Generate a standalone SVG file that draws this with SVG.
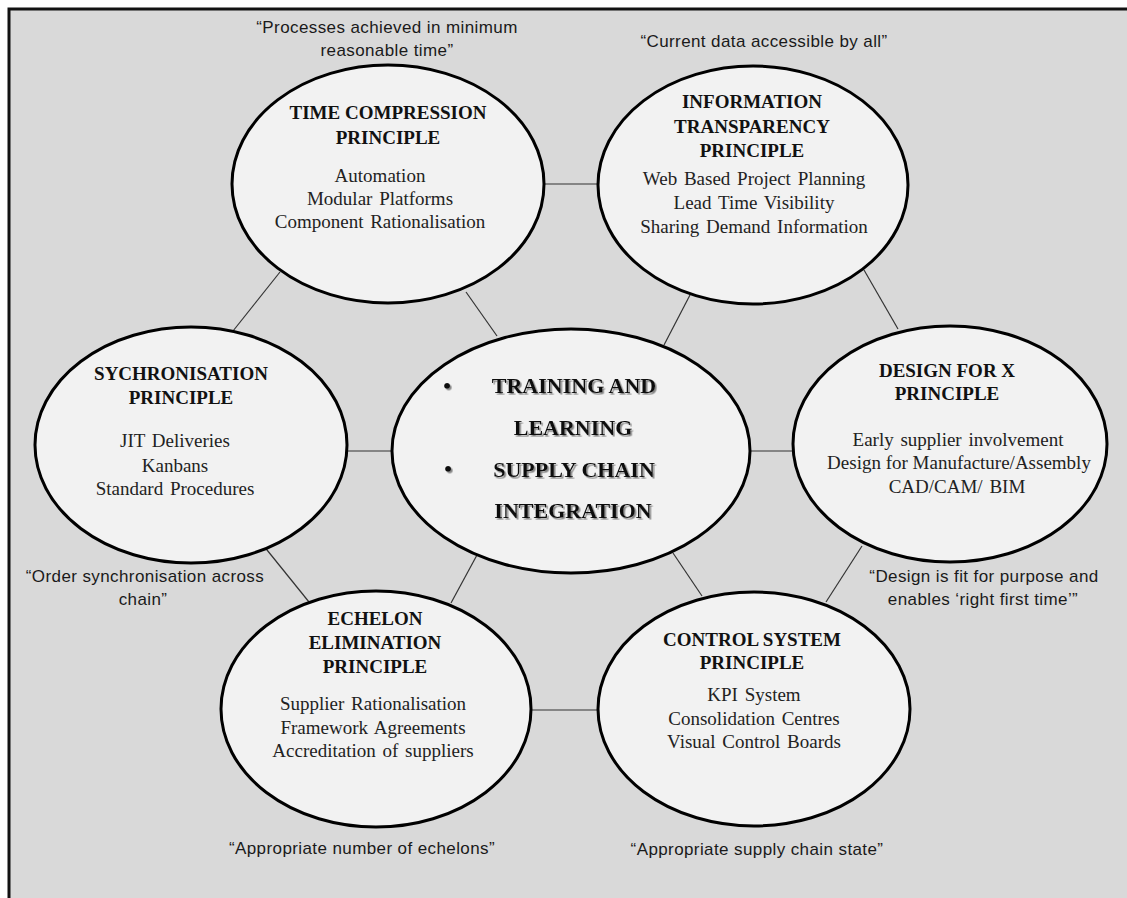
<svg xmlns="http://www.w3.org/2000/svg" width="1127" height="898" viewBox="0 0 1127 898">
<defs>
<style>
.node{fill:#f2f2f2;stroke:#000;stroke-width:3}
.conn line{stroke:#333;stroke-width:1.2}
.title{font-family:"Liberation Serif","Times New Roman",serif;font-weight:bold;font-size:19px;fill:#111;text-anchor:middle}
.item{font-family:"Liberation Serif","Times New Roman",serif;font-size:19px;fill:#222;text-anchor:middle;word-spacing:2px}
.quote{font-family:"Liberation Sans",Arial,sans-serif;font-size:17px;letter-spacing:0.4px;fill:#1a1a1a;text-anchor:middle}
.center{font-family:"Liberation Serif","Times New Roman",serif;font-weight:bold;font-size:22px;fill:#111;text-anchor:middle}
</style>
<filter id="shadow" x="-10%" y="-20%" width="130%" height="160%">
<feDropShadow dx="1.6" dy="1.6" stdDeviation="0.6" flood-color="#7a7a7a" flood-opacity="0.9"/>
</filter>
</defs>
<rect x="0" y="0" width="1127" height="898" fill="#ffffff"/>
<rect x="9" y="9" width="1130" height="900" fill="#d9d9d9" stroke="#111" stroke-width="3"/>

<g id="connectors" class="conn">
<line x1="545" y1="184" x2="598" y2="184"/>
<line x1="280" y1="272" x2="233" y2="331"/>
<line x1="466" y1="292" x2="497" y2="336"/>
<line x1="690" y1="295" x2="664" y2="345"/>
<line x1="864" y1="270" x2="898" y2="329"/>
<line x1="347" y1="451" x2="392" y2="451"/>
<line x1="750" y1="451" x2="793" y2="451"/>
<line x1="263" y1="545" x2="309" y2="602"/>
<line x1="477" y1="555" x2="451" y2="603"/>
<line x1="673" y1="553" x2="702" y2="596"/>
<line x1="862" y1="546" x2="826" y2="602"/>
<line x1="532" y1="710" x2="598" y2="710"/>
</g>

<g id="time-compression">
<ellipse class="node" cx="388" cy="184" rx="156" ry="119"/>
<text class="title" x="388" y="119">TIME COMPRESSION</text>
<text class="title" x="388" y="144">PRINCIPLE</text>
<text class="item" x="380" y="182">Automation</text>
<text class="item" x="380" y="205">Modular Platforms</text>
<text class="item" x="380" y="228">Component Rationalisation</text>
</g>

<g id="information-transparency">
<ellipse class="node" cx="753" cy="185" rx="155" ry="119"/>
<text class="title" x="752" y="108">INFORMATION</text>
<text class="title" x="752" y="133">TRANSPARENCY</text>
<text class="title" x="752" y="157">PRINCIPLE</text>
<text class="item" x="754" y="185">Web Based Project Planning</text>
<text class="item" x="754" y="209">Lead Time Visibility</text>
<text class="item" x="754" y="233">Sharing Demand Information</text>
</g>

<g id="synchronisation">
<ellipse class="node" cx="191" cy="445" rx="156" ry="118"/>
<text class="title" x="181" y="380">SYCHRONISATION</text>
<text class="title" x="181" y="404">PRINCIPLE</text>
<text class="item" x="175" y="447">JIT Deliveries</text>
<text class="item" x="175" y="472">Kanbans</text>
<text class="item" x="175" y="495">Standard Procedures</text>
</g>

<g id="central">
<ellipse class="node" cx="571" cy="451" rx="179" ry="122"/>
<g filter="url(#shadow)">
<text class="center" x="447" y="393" text-anchor="start">•</text>
<text class="center" x="574" y="393">TRAINING AND</text>
<text class="center" x="573" y="435">LEARNING</text>
<text class="center" x="448" y="476" text-anchor="start">•</text>
<text class="center" x="574" y="477">SUPPLY CHAIN</text>
<text class="center" x="573" y="518">INTEGRATION</text>
</g>
</g>

<g id="design-for-x">
<ellipse class="node" cx="950" cy="444" rx="157" ry="118"/>
<text class="title" x="947" y="377">DESIGN FOR X</text>
<text class="title" x="947" y="400">PRINCIPLE</text>
<text class="item" x="958" y="446">Early supplier involvement</text>
<text class="item" x="959" y="469" style="word-spacing:0">Design for Manufacture/Assembly</text>
<text class="item" x="957" y="493">CAD/CAM/ BIM</text>
</g>

<g id="echelon-elimination">
<ellipse class="node" cx="376" cy="709" rx="155" ry="118"/>
<text class="title" x="375" y="625">ECHELON</text>
<text class="title" x="375" y="649">ELIMINATION</text>
<text class="title" x="375" y="673">PRINCIPLE</text>
<text class="item" x="373" y="710">Supplier Rationalisation</text>
<text class="item" x="373" y="734">Framework Agreements</text>
<text class="item" x="373" y="757">Accreditation of suppliers</text>
</g>

<g id="control-system">
<ellipse class="node" cx="754" cy="709" rx="156" ry="117"/>
<text class="title" x="752" y="646">CONTROL SYSTEM</text>
<text class="title" x="752" y="669">PRINCIPLE</text>
<text class="item" x="754" y="701">KPI System</text>
<text class="item" x="754" y="725">Consolidation Centres</text>
<text class="item" x="754" y="748">Visual Control Boards</text>
</g>

<g id="quotes">
<text class="quote" x="387" y="33">“Processes achieved in minimum</text>
<text class="quote" x="387" y="56">reasonable time”</text>
<text class="quote" x="764" y="47">“Current data accessible by all”</text>
<text class="quote" x="145" y="582">“Order synchronisation across</text>
<text class="quote" x="143" y="605">chain”</text>
<text class="quote" x="984" y="582">“Design is fit for purpose and</text>
<text class="quote" x="983" y="605">enables ‘right first time’”</text>
<text class="quote" x="362" y="854">“Appropriate number of echelons”</text>
<text class="quote" x="757" y="855">“Appropriate supply chain state”</text>
</g>
</svg>
